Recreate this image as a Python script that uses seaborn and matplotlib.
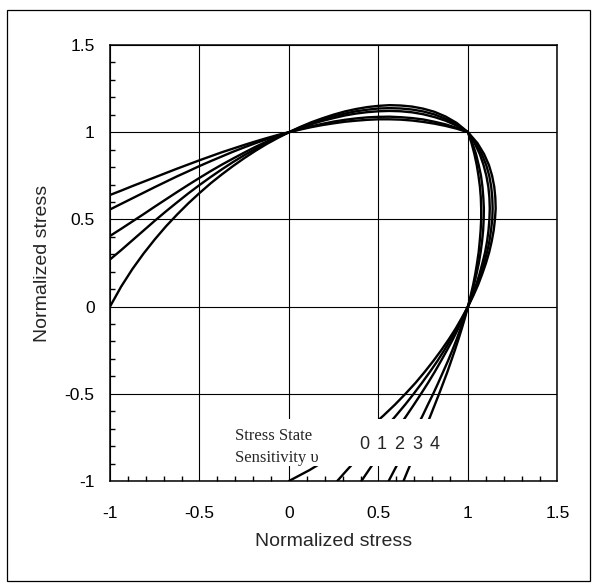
import matplotlib
matplotlib.use("Agg")
import matplotlib.pyplot as plt
from matplotlib.patches import Rectangle
from matplotlib.ticker import MultipleLocator, FixedLocator
import pandas as pd
import seaborn as sns

# ---- data -------------------------------------------------------------
# first normalized stress along the upper arc (shared by all curves)
X_GRID = [-1.0, -0.9375, -0.875, -0.8125, -0.75, -0.6875, -0.625, -0.5625,
          -0.5, -0.4375, -0.375, -0.3125, -0.25, -0.1875, -0.125, -0.0625,
          0.0, 0.0625, 0.125, 0.1875, 0.25, 0.3125, 0.375, 0.4375,
          0.5, 0.5625, 0.625, 0.6875, 0.75, 0.8125, 0.875, 0.9375, 1.0]
# second normalized stress on the upper arc, one list per stress state sensitivity
UPPER_V0 = [0.000, 0.115, 0.215, 0.304, 0.385, 0.460, 0.528, 0.592, 0.651, 0.707, 0.758,
            0.806, 0.851, 0.893, 0.932, 0.967, 1.000, 1.030, 1.057, 1.080, 1.101, 1.119,
            1.133, 1.144, 1.151, 1.155, 1.153, 1.147, 1.135, 1.117, 1.090, 1.053, 1.000]
UPPER_V1 = [0.270, 0.324, 0.380, 0.436, 0.492, 0.546, 0.598, 0.649, 0.697, 0.743, 0.787,
            0.829, 0.868, 0.904, 0.939, 0.971, 1.000, 1.027, 1.051, 1.073, 1.091, 1.107,
            1.120, 1.129, 1.136, 1.138, 1.136, 1.130, 1.119, 1.102, 1.077, 1.044, 1.000]
UPPER_V2 = [0.405, 0.446, 0.488, 0.530, 0.573, 0.615, 0.657, 0.698, 0.738, 0.777, 0.814,
            0.849, 0.883, 0.916, 0.946, 0.974, 1.000, 1.024, 1.046, 1.065, 1.081, 1.096,
            1.107, 1.115, 1.120, 1.122, 1.120, 1.114, 1.103, 1.087, 1.066, 1.037, 1.000]
UPPER_V3 = [0.557, 0.589, 0.621, 0.653, 0.685, 0.716, 0.747, 0.776, 0.806, 0.834, 0.861,
            0.888, 0.913, 0.937, 0.959, 0.980, 1.000, 1.018, 1.034, 1.048, 1.061, 1.071,
            1.079, 1.085, 1.088, 1.089, 1.086, 1.081, 1.073, 1.060, 1.045, 1.025, 1.000]
UPPER_V4 = [0.640, 0.665, 0.691, 0.716, 0.741, 0.766, 0.791, 0.815, 0.839, 0.862, 0.885,
            0.906, 0.927, 0.947, 0.966, 0.984, 1.000, 1.015, 1.029, 1.041, 1.051, 1.060,
            1.066, 1.071, 1.074, 1.074, 1.072, 1.067, 1.059, 1.049, 1.036, 1.020, 1.000]
SENSITIVITIES = ["0", "1", "2", "3", "4"]
UPPERS = [UPPER_V0, UPPER_V1, UPPER_V2, UPPER_V3, UPPER_V4]
# x positions of the "0 1 2 3 4" labels under the curve ends
LABEL_X = [0.419, 0.52, 0.617, 0.717, 0.812]
TICKS = [-1, -0.5, 0, 0.5, 1, 1.5]
TICK_LABELS = ["-1", "-0.5", "0", "0.5", "1", "1.5"]

# the surfaces are symmetric about sigma1 = sigma2: the right/lower branch
# is the upper arc with the two stresses exchanged
rows = []
for v, up in zip(SENSITIVITIES, UPPERS):
    s1 = X_GRID + up[::-1][1:]
    s2 = up + X_GRID[::-1][1:]
    for i, (a, b) in enumerate(zip(s1, s2)):
        rows.append({"v": v, "order": i, "s1": a, "s2": b})
df = pd.DataFrame(rows)

# ---- figure ---------------------------------------------------------------
sns.set_style("white")
plt.rcParams["font.family"] = ["Liberation Sans", "DejaVu Sans"]

fig = plt.figure(figsize=(5.93, 5.83), dpi=100)
ax = fig.add_axes([0.1855, 0.175, 0.7545, 0.7478])

sns.lineplot(data=df, x="s1", y="s2", units="v", estimator=None, sort=False,
             color="black", lw=1.7, ax=ax, legend=False, zorder=2)

ax.set_xlim(-1, 1.5)
ax.set_ylim(-1, 1.5)
ax.xaxis.set_major_locator(FixedLocator(TICKS))
ax.yaxis.set_major_locator(FixedLocator(TICKS))
ax.set_xticklabels(TICK_LABELS)
ax.set_yticklabels(TICK_LABELS)
ax.xaxis.set_minor_locator(MultipleLocator(0.1))
ax.yaxis.set_minor_locator(MultipleLocator(0.1))
ax.tick_params(which="major", length=0, labelsize=12.5, colors="black")
ax.tick_params(axis="x", which="major", pad=18)
ax.tick_params(axis="y", which="major", pad=11)
ax.tick_params(which="minor", direction="in", length=3.5, width=1.0,
               left=True, bottom=True, top=False, right=False, color="black")
ax.grid(True, which="major", color="black", lw=0.8)
for sp in ax.spines.values():
    sp.set_color("black")
    sp.set_linewidth(1.1)

ax.set_xlabel("Normalized stress", fontsize=14, labelpad=9)
ax.set_ylabel("Normalized stress", fontsize=14, labelpad=10)

# white label panel that hides the lower part of the curves
ax.add_patch(Rectangle((-0.36, -0.915), 1.26, 0.27, facecolor="white",
                       edgecolor="none", zorder=3))
ax.text(-0.30, -0.763, "Stress State", family=["Liberation Serif", "DejaVu Serif"],
        fontsize=12, va="baseline", ha="left", zorder=4)
ax.text(-0.30, -0.889, "Sensitivity \u03c5", family=["Liberation Serif", "DejaVu Serif"],
        fontsize=12, va="baseline", ha="left", zorder=4)
for lx, lab in zip(LABEL_X, SENSITIVITIES):
    ax.text(lx, -0.79, lab, fontsize=13, ha="center", va="center", zorder=4)

# outer frame of the figure
fig.patches.append(Rectangle((0.012, 0.004), 0.983, 0.979, transform=fig.transFigure,
                             fill=False, edgecolor="black", lw=0.9))

fig.savefig("out.png", dpi=100, facecolor="white")
